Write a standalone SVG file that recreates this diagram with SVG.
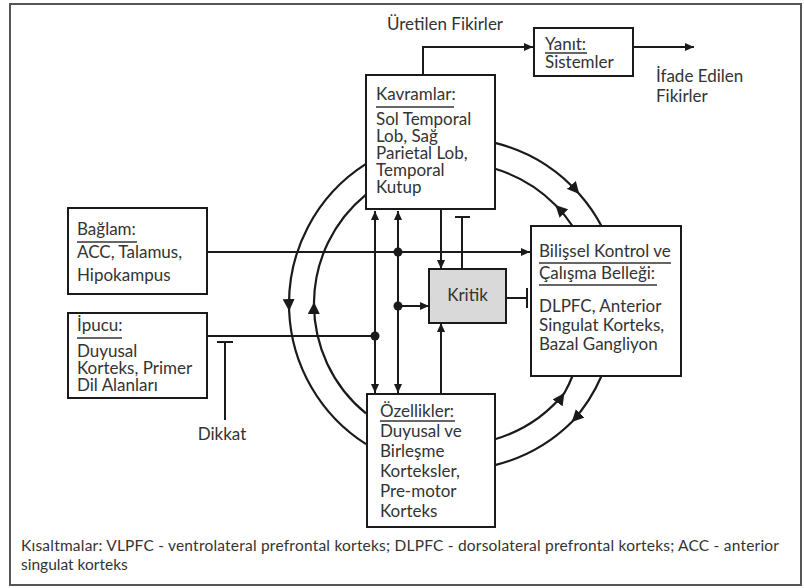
<svg xmlns="http://www.w3.org/2000/svg" width="804" height="588" viewBox="0 0 804 588">
  <defs>
    <marker id="arr" viewBox="0 0 9 8" markerUnits="userSpaceOnUse" markerWidth="9" markerHeight="8" refX="9" refY="4" orient="auto-start-reverse">
      <path d="M0,0 L9,4 L0,8 z" fill="#1a1a1a"/>
    </marker>
    <marker id="arrBig" viewBox="0 0 12 12" markerUnits="userSpaceOnUse" markerWidth="12" markerHeight="12" refX="12" refY="6" orient="auto">
      <path d="M0,0 L12,6 L0,12 z" fill="#1a1a1a"/>
    </marker>
  </defs>
  <style>
    .box{fill:#fff;stroke:#1a1a1a;stroke-width:2}
    .crit{fill:#d9d9d9;stroke:#1a1a1a;stroke-width:2}
    .ln{fill:none;stroke:#1a1a1a;stroke-width:2}
    .arc{fill:none;stroke:#1a1a1a;stroke-width:2.2;marker-mid:url(#arrBig)}
    .ah{marker-end:url(#arr)}
    .dbl{marker-start:url(#arr);marker-end:url(#arr)}
    .dot{fill:#1a1a1a}
    .t{font-family:Lato,"Open Sans",sans-serif;font-size:17px;fill:#333}
    .cap{font-family:Lato,"Open Sans",sans-serif;font-size:15.5px;fill:#333}
    .ul{stroke:#333;stroke-width:1.6}
  </style>

  <rect x="0" y="0" width="804" height="588" fill="#fff"/>
  <rect x="10" y="4" width="791" height="581" fill="none" stroke="#555" stroke-width="2"/>

  <!-- connectors -->
  <g id="connectors">
    <!-- feedback loops around the central column (circle centre 455,304) -->
    <path class="arc" d="M366,163.9 A166,166 0 0 0 289.15,311 A166,166 0 0 0 366,444.1"/>
    <path class="arc" d="M366,413.4 A141,141 0 0 1 314,302 A141,141 0 0 1 366,194.6"/>
    <path class="arc" d="M495,142.9 A166,166 0 0 1 579.3,194 A166,166 0 0 1 601.5,226"/>
    <path class="arc" d="M572.5,226 A141,141 0 0 0 555.4,205 A141,141 0 0 0 495,168.8"/>
    <path class="arc" d="M495,439.2 A141,141 0 0 0 564.4,393 A141,141 0 0 0 572.5,376"/>
    <path class="arc" d="M601.5,376 A166,166 0 0 1 571.8,422 A166,166 0 0 1 495,465.1"/>

    <!-- output path -->
    <path class="ln ah" d="M423,75 V47 H533"/>
    <path class="ln ah" d="M633,47 H694"/>

    <!-- context and cue inputs -->
    <path class="ln ah" d="M207,252 H530"/>
    <path class="ln" d="M207,336 H375"/>

    <!-- two-way links between concepts and features -->
    <path class="ln dbl" d="M375,211 V393"/>
    <path class="ln dbl" d="M398,211 V393"/>

    <!-- inputs to the critic -->
    <path class="ln ah" d="M398,306 H429"/>
    <path class="ln ah" d="M441,209 V269"/>
    <path class="ln ah" d="M441,394 V323"/>

    <!-- inhibitory links -->
    <path class="ln" d="M462,269 V217 M455,217 H470"/>
    <path class="ln" d="M506,298 H527 M527,288 V308"/>
    <path class="ln" d="M225,342 V420 M217,342 H233"/>

    <circle class="dot" cx="398" cy="252" r="4.5"/>
    <circle class="dot" cx="398" cy="306" r="4.5"/>
    <circle class="dot" cx="375" cy="336" r="4.5"/>
  </g>

  <!-- free labels -->
  <text class="t" x="387" y="30">Üretilen Fikirler</text>
  <text class="t" x="656" y="82">İfade Edilen</text>
  <text class="t" x="656" y="102">Fikirler</text>
  <text class="t" x="222" y="440" text-anchor="middle">Dikkat</text>

  <g id="kavramlar">
    <rect class="box" x="366" y="75" width="129" height="134"/>
    <text class="t" x="376" y="100">Kavramlar:</text>
    <line class="ul" x1="376" y1="107" x2="454" y2="107"/>
    <text class="t" x="376" y="125">Sol Temporal</text>
    <text class="t" x="376" y="142">Lob, Sağ</text>
    <text class="t" x="376" y="159">Parietal Lob,</text>
    <text class="t" x="376" y="176">Temporal</text>
    <text class="t" x="376" y="193">Kutup</text>
  </g>

  <g id="yanit">
    <rect class="box" x="534" y="28" width="99" height="48"/>
    <text class="t" x="545" y="50">Yanıt:</text>
    <line class="ul" x1="545" y1="53" x2="587" y2="53"/>
    <text class="t" x="545" y="68">Sistemler</text>
  </g>

  <g id="baglam">
    <rect class="box" x="68" y="208" width="139" height="86"/>
    <text class="t" x="77" y="235">Bağlam:</text>
    <line class="ul" x1="77" y1="242" x2="137" y2="242"/>
    <text class="t" x="77" y="258">ACC, Talamus,</text>
    <text class="t" x="77" y="281">Hipokampus</text>
  </g>

  <g id="ipucu">
    <rect class="box" x="68" y="313" width="139" height="85"/>
    <text class="t" x="77" y="331">İpucu:</text>
    <line class="ul" x1="77" y1="338" x2="122" y2="338"/>
    <text class="t" x="77" y="357">Duyusal</text>
    <text class="t" x="77" y="374">Korteks, Primer</text>
    <text class="t" x="77" y="391">Dil Alanları</text>
  </g>

  <g id="kritik">
    <rect class="crit" x="429" y="269" width="77" height="54"/>
    <text class="t" x="467.5" y="301" text-anchor="middle">Kritik</text>
  </g>

  <g id="bilissel">
    <rect class="box" x="531" y="226" width="150" height="150"/>
    <text class="t" x="539" y="257">Bilişsel Kontrol ve</text>
    <line class="ul" x1="539" y1="263" x2="671" y2="263"/>
    <text class="t" x="539" y="279">Çalışma Belleği:</text>
    <line class="ul" x1="539" y1="285" x2="657" y2="285"/>
    <text class="t" x="539" y="312">DLPFC, Anterior</text>
    <text class="t" x="539" y="331">Singulat Korteks,</text>
    <text class="t" x="539" y="350">Bazal Gangliyon</text>
  </g>

  <g id="ozellikler">
    <rect class="box" x="367" y="394" width="128" height="133"/>
    <text class="t" x="380" y="417">Özellikler:</text>
    <line class="ul" x1="380" y1="421" x2="455" y2="421"/>
    <text class="t" x="380" y="437">Duyusal ve</text>
    <text class="t" x="380" y="457">Birleşme</text>
    <text class="t" x="380" y="477">Korteksler,</text>
    <text class="t" x="380" y="497">Pre-motor</text>
    <text class="t" x="380" y="517">Korteks</text>
  </g>

  <text class="cap" x="21" y="551" textLength="758" lengthAdjust="spacing">Kısaltmalar: VLPFC - ventrolateral prefrontal korteks; DLPFC - dorsolateral prefrontal korteks; ACC - anterior</text>
  <text class="cap" x="21" y="570">singulat korteks</text>
</svg>
